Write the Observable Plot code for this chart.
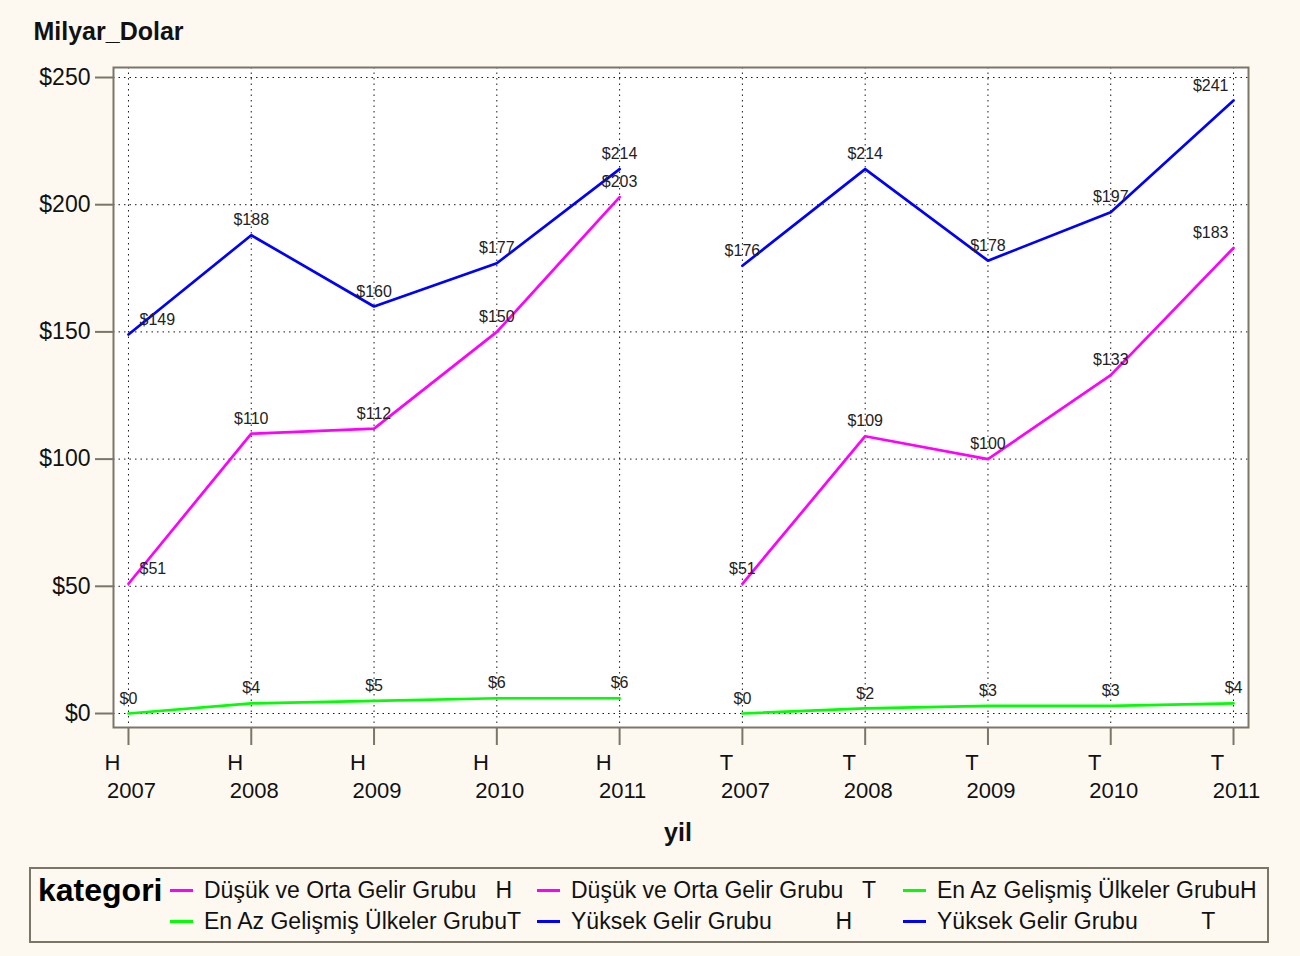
<!DOCTYPE html>
<html><head><meta charset="utf-8">
<script src="https://cdn.jsdelivr.net/npm/d3@7"></script>
<script src="https://cdn.jsdelivr.net/npm/@observablehq/plot@0.6"></script>
<style>
body{margin:0;background:#fdf9f1;font-family:"Liberation Sans",Arial,sans-serif;}
#wrap{position:relative;width:1300px;height:956px;background:#fdf9f1;}
#chart{position:absolute;left:0;top:0;}
#legend{position:absolute;left:29px;top:867px;width:1240px;height:76px;box-sizing:border-box;border:2px solid #7a7668;}
#legend .title{position:absolute;left:7px;top:3px;font-weight:bold;font-size:32px;color:#000;}
#legend .item{position:absolute;height:26px;display:flex;align-items:center;font-size:23px;color:#111;white-space:pre;}
#legend .sw{display:inline-block;width:23px;height:3px;margin-right:11px;}
</style>
</head><body>
<div id="wrap"><div id="chart"></div><div id="legend"></div></div>
<script>
const years = [2007, 2008, 2009, 2010, 2011];
const groups = ["H", "T"];
const categories = ["Düşük ve Orta Gelir Grubu", "En Az Gelişmiş Ülkeler Grubu", "Yüksek Gelir Grubu"];
const colors = ["#ff00ff", "#00ff00", "#0000ff"];
const dusukH  = [51, 110, 112, 150, 203];
const dusukT  = [51, 109, 100, 133, 183];
const enazH   = [0, 4, 5, 6, 6];
const enazT   = [0, 2, 3, 3, 4];
const yuksekH = [149, 188, 160, 177, 214];
const yuksekT = [176, 214, 178, 197, 241];
const yTicks = [0, 50, 100, 150, 200, 250];

const seriesValues = [[dusukH, dusukT], [enazH, enazT], [yuksekH, yuksekT]];
const rows = [];
categories.forEach((c, ci) => groups.forEach((g, gi) => years.forEach((yr, j) => {
  rows.push({cat: c, grp: g, key: c + g, idx: gi * years.length + j, year: yr, value: seriesValues[ci][gi][j]});
})));
const xTicks = [];
groups.forEach((g, gi) => years.forEach((yr, j) => xTicks.push({i: gi * years.length + j, g, yr})));
const last = xTicks.length - 1;

const frameGray = "#7a7668";
const font = "Liberation Sans, Arial, sans-serif";
const lbl = {x: "idx", y: "value", text: d => "$" + d.value, dy: -15, fontSize: 16, fill: "#222"};

const chart = Plot.plot({
  width: 1300, height: 860,
  marginLeft: 113, marginRight: 52, marginTop: 67, marginBottom: 133,
  style: {background: "transparent", fontFamily: font},
  x: {type: "linear", domain: [-0.122, 9.122]},
  y: {domain: [-5.5, 253.93]},
  color: {domain: categories, range: colors},
  marks: [
    Plot.frame({fill: "white", stroke: null}),
    Plot.gridY({ticks: yTicks, stroke: "#000", strokeOpacity: 0.9, strokeDasharray: "1.5,4"}),
    Plot.gridX({ticks: xTicks.map(d => d.i), stroke: "#000", strokeOpacity: 0.9, strokeDasharray: "1.5,4"}),
    Plot.frame({stroke: frameGray, strokeWidth: 2}),
    Plot.axisY({ticks: yTicks, tickFormat: d => "$" + d, tickSize: 18, tickPadding: 5, fontSize: 23, stroke: frameGray, strokeWidth: 2, fill: "#111", label: null}),
    Plot.axisX({ticks: xTicks.map(d => d.i), tickSize: 18, tickFormat: () => "", stroke: frameGray, strokeWidth: 2, label: null}),
    Plot.text(xTicks, {x: "i", text: "g", frameAnchor: "bottom", dy: 42, dx: -16, fontSize: 22, fill: "#111"}),
    Plot.text(xTicks, {x: "i", text: d => String(d.yr), frameAnchor: "bottom", dy: 70, dx: 3, fontSize: 22, fill: "#111"}),
    Plot.line(rows, {x: "idx", y: "value", z: "key", stroke: "cat", strokeWidth: 2.7}),
    Plot.text(rows, {...lbl, filter: d => !((d.idx === 0 && d.value > 10) || (d.idx === last && d.value > 100))}),
    Plot.text(rows, {...lbl, filter: d => d.idx === 0 && d.value > 10, textAnchor: "start", dx: 11}),
    Plot.text(rows, {...lbl, filter: d => d.idx === last && d.value > 100, textAnchor: "end", dx: -5}),
    Plot.text(["Milyar_Dolar"], {frameAnchor: "top-left", dx: -80, dy: -45, textAnchor: "start", fontSize: 25, fontWeight: "bold", fill: "#111"}),
    Plot.text(["yil"], {frameAnchor: "bottom", dy: 113, dx: -3, fontSize: 25, fontWeight: "bold", fill: "#111"})
  ]
});
document.getElementById("chart").appendChild(chart);

const legend = document.getElementById("legend");
const t = document.createElement("div"); t.className = "title"; t.textContent = "kategori"; legend.appendChild(t);
const entries = [];
categories.forEach((c, ci) => groups.forEach(g => entries.push({label: c.padEnd(28, " ") + g, color: colors[ci]})));
const colLeft = [139, 506, 872], rowTop = [8, 39];
entries.forEach((e, k) => {
  const it = document.createElement("div"); it.className = "item";
  it.style.left = colLeft[k % 3] + "px"; it.style.top = rowTop[Math.floor(k / 3)] + "px";
  const sw = document.createElement("span"); sw.className = "sw"; sw.style.background = e.color;
  const tx = document.createElement("span"); tx.textContent = e.label;
  it.appendChild(sw); it.appendChild(tx); legend.appendChild(it);
});
</script>
</body></html>
